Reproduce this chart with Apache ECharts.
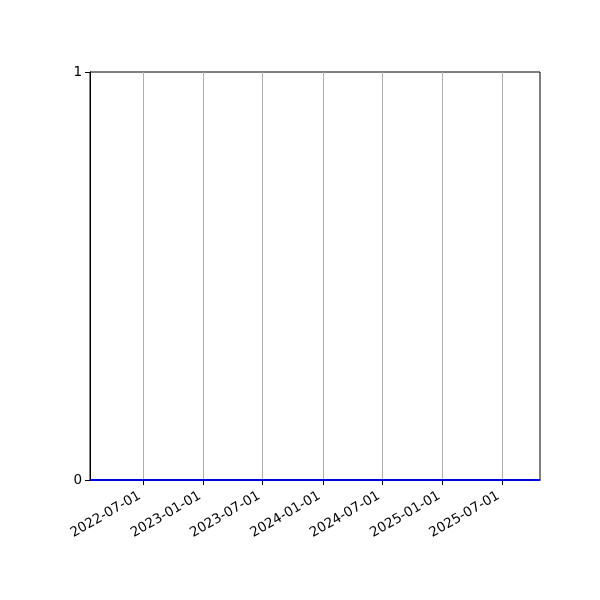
<!DOCTYPE html>
<html>
<head>
<meta charset="utf-8">
<script src="https://cdn.jsdelivr.net/npm/echarts@6/dist/echarts.min.js"></script>
<style>html,body{margin:0;padding:0;background:#fff}#c{width:600px;height:600px}</style>
</head>
<body>
<div id="c"></div>
<script>
const dates = ['2022-01-20', '2022-07-01', '2023-01-01', '2023-07-01', '2024-01-01', '2024-07-01', '2025-01-01', '2025-07-01', '2025-10-25'];
const values = [0, 0, 0, 0, 0, 0, 0, 0, 0];
const xTickLabels = ['2022-07-01', '2023-01-01', '2023-07-01', '2024-01-01', '2024-07-01', '2025-01-01', '2025-07-01'];
const yTickLabels = [0, 1];
const xMin = '2022-01-20';
const xMax = '2025-10-25';

const ts = s => new Date(s + 'T00:00:00Z').getTime();
const tickTs = xTickLabels.map(ts);
const font = 'DejaVu Sans';
const fmt = v => {
  const d = new Date(v);
  const p = n => String(n).padStart(2, '0');
  return d.getUTCFullYear() + '-' + p(d.getUTCMonth() + 1) + '-' + p(d.getUTCDate());
};

const chart = echarts.init(document.getElementById('c'), null, {renderer: 'canvas'});
chart.setOption({
  animation: false,
  backgroundColor: '#ffffff',
  grid: {left: 90, right: 60, top: 72, bottom: 120, show: true, borderColor: '#000', borderWidth: 1, backgroundColor: 'transparent'},
  xAxis: {
    type: 'value',
    min: ts(xMin), max: ts(xMax),
    axisLine: {show: true, onZero: false, lineStyle: {color: '#000', width: 1}},
    axisTick: {show: true, inside: false, length: 5, lineStyle: {color: '#000'}, customValues: tickTs},
    axisLabel: {
      customValues: tickTs, showMinLabel: true, showMaxLabel: true,
      rotate: 30, fontFamily: font, fontSize: 13.5, color: '#000', margin: 13,
      padding: [0, 4, 0, 0],
      formatter: fmt
    },
    splitLine: {show: false}
  },
  yAxis: {
    type: 'value', min: yTickLabels[0], max: yTickLabels[yTickLabels.length - 1], interval: 1,
    axisLine: {show: true, lineStyle: {color: '#000', width: 1}},
    axisTick: {show: true, length: 5, lineStyle: {color: '#000'}},
    axisLabel: {fontFamily: font, fontSize: 13.5, color: '#000', margin: 8},
    splitLine: {show: false}
  },
  series: [{
    type: 'line',
    data: dates.map((d, i) => [ts(d), values[i]]),
    showSymbol: false,
    lineStyle: {color: '#0000dd', width: 2},
    itemStyle: {color: '#0000dd'},
    z: 5,
    markLine: {
      silent: true, symbol: 'none', label: {show: false},
      lineStyle: {color: '#b0b0b0', width: 1, type: 'solid'},
      data: tickTs.map(t => ({xAxis: t}))
    }
  }]
});
</script>
</body>
</html>
